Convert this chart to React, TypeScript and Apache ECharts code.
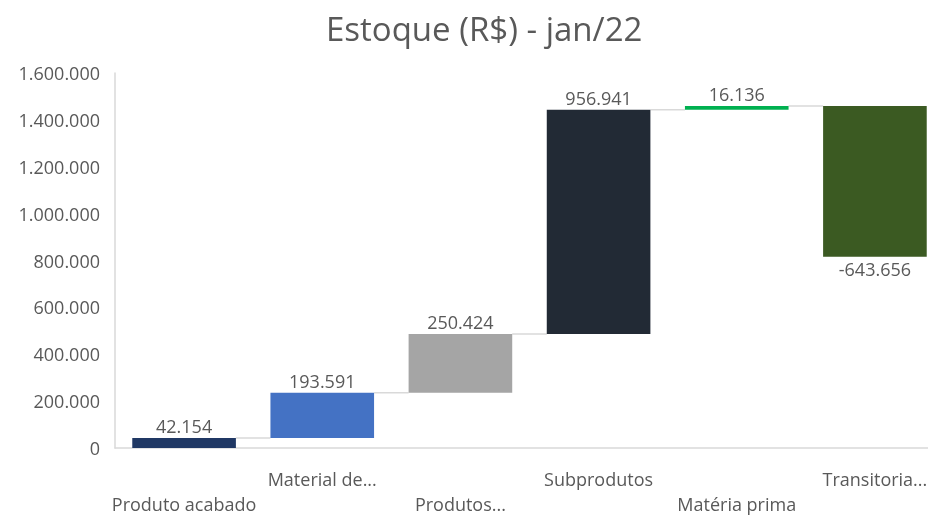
import React, { useEffect, useRef } from "react";
import * as echarts from "echarts";

const categories = ["Produto acabado", "Material de...", "Produtos...", "Subprodutos", "Matéria prima", "Transitoria..."];
const deltas = [42154, 193591, 250424, 956941, 16136, -643656];
const barColors = ["#203864", "#4472C4", "#A5A5A5", "#222A35", "#00B050", "#3B5A22"];
const yTicks = { min: 0, max: 1600000, interval: 200000 };
const title = "Estoque (R$) - jan/22";

const fmt = (n: number) => {
  const s = String(Math.abs(Math.round(n))).replace(/\B(?=(\d{3})+(?!\d))/g, ".");
  return (n < 0 ? "-" : "") + s;
};

const FONT = "'Open Sans', 'Noto Sans', sans-serif";
const GAP = 0.25;

export default function App() {
  const ref = useRef<HTMLDivElement>(null);
  useEffect(() => {
    if (!ref.current) return;
    const chart = echarts.init(ref.current, undefined, { renderer: "svg" });

    const bases: number[] = [];
    const heights: number[] = [];
    const cums: number[] = [];
    let cum = 0;
    deltas.forEach((d) => {
      const next = cum + d;
      bases.push(Math.min(cum, next));
      heights.push(Math.abs(d));
      cum = next;
      cums.push(cum);
    });

    const connectors = cums.slice(0, -1).map((c, i) => [i, c]);

    chart.setOption({
      animation: false,
      title: {
        text: title,
        left: 321,
        top: 7,
        textStyle: { fontFamily: FONT, fontSize: 33, fontWeight: "normal", color: "#595959" },
      },
      grid: { left: 115, right: 0, top: 73, bottom: 64, containLabel: false },
      xAxis: {
        type: "category",
        data: categories,
        axisLine: { show: true, lineStyle: { color: "#D9D9D9", width: 1.5 } },
        axisTick: { show: false },
        axisLabel: {
          interval: 0,
          margin: 18,
          fontFamily: FONT,
          fontSize: 18,
          color: "#595959",
          lineHeight: 25,
          formatter: (v: string, i: number) => (i % 2 === 0 ? "\n" + v : v),
        },
      },
      yAxis: {
        type: "value",
        min: yTicks.min,
        max: yTicks.max,
        interval: yTicks.interval,
        splitLine: { show: false },
        axisLine: { show: true, lineStyle: { color: "#D9D9D9", width: 1.5 } },
        axisTick: { show: false },
        axisLabel: {
          margin: 15,
          fontFamily: FONT,
          fontSize: 18,
          color: "#595959",
          formatter: (v: number) => fmt(v),
        },
      },
      series: [
        {
          type: "bar",
          stack: "wf",
          data: bases,
          itemStyle: { color: "transparent" },
          barCategoryGap: GAP * 100 + "%",
          silent: true,
        },
        {
          type: "bar",
          stack: "wf",
          barCategoryGap: GAP * 100 + "%",
          data: heights.map((h, i) => ({
            value: h,
            itemStyle: { color: barColors[i] },
            label: {
              show: true,
              position: deltas[i] < 0 ? "bottom" : "top",
              distance: 3,
              fontFamily: FONT,
              fontSize: 18,
              color: "#595959",
              formatter: () => fmt(deltas[i]),
            },
          })),
        },
        {
          type: "custom",
          data: connectors,
          silent: true,
          z: 1,
          renderItem: (params: any, api: any) => {
            const idx = api.value(0);
            const y = api.value(1);
            const p = api.coord([idx, y]);
            const bw = api.size([1, 0])[0];
            const half = (bw * (1 - GAP)) / 2;
            return {
              type: "line",
              shape: { x1: p[0] + half, y1: p[1], x2: p[0] + bw - half, y2: p[1] },
              style: { stroke: "#D9D9D9", lineWidth: 1.5 },
            };
          },
        },
      ],
    });
    return () => chart.dispose();
  }, []);
  return <div ref={ref} style={{ position: "fixed", left: 0, top: 0, width: 944, height: 516 }} />;
}
